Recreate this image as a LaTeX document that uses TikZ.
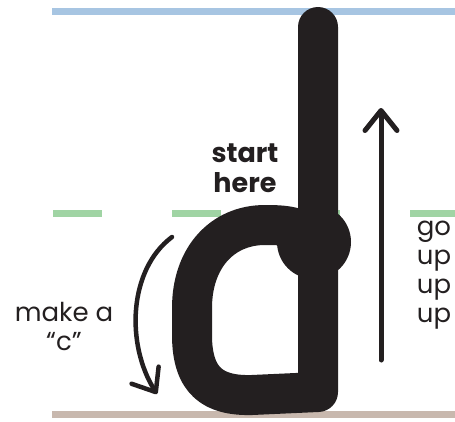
\documentclass[tikz,border=0pt]{standalone}
\usepackage{fontspec}
\setmainfont{Poppins}
\usetikzlibrary{arrows.meta}
\definecolor{inkBlack}{RGB}{35,31,32}
\definecolor{topLine}{RGB}{167,197,226}
\definecolor{midLine}{RGB}{160,212,164}
\definecolor{baseLine}{RGB}{200,184,174}

\begin{document}
\begin{tikzpicture}[x=1pt, y=-1pt,
    guide/.style={line width=7pt},
    letter/.style={inkBlack, line width=40pt, line cap=round, line join=round},
    hint/.style={inkBlack, line width=4.5pt, line cap=round, -{Straight Barb[length=20pt,width=32pt,round]}},
    every node/.style={inkBlack, font=\fontsize{26}{29}\selectfont, align=center, inner sep=0pt}]
  \useasboundingbox (0,0) rectangle (455,421);
  % guide lines
  \draw[guide, topLine] (52,11.5) -- (455,11.5);
  \draw[guide, midLine, dash pattern=on 49pt off 70pt] (53,213) -- (455,213);
  \draw[guide, baseLine] (52,414) -- (455,414);
  % the letter d
  \draw[letter] (316,240) .. controls (300,226) and (285,225) .. (265,225)
    .. controls (222,225) and (192,258) .. (192,308) -- (192,335)
    .. controls (192,382) and (214,396) .. (252,395) -- (318,392) -- (318,27);
  \fill[inkBlack] (314,242) circle[radius=37pt];
  % stroke hints
  \coordinate (cTop) at (172,237);
  \coordinate (cEnd) at (157,394);
  \draw[hint] (cTop) .. controls (128,270) and (126,345) .. (cEnd);
  \coordinate (upFoot) at (381,360);
  \coordinate (upHead) at (381,108);
  \draw[hint, line width=5pt] (upFoot) -- (upHead);
  % labels
  \node[font=\bfseries\fontsize{27}{30}\selectfont] (startHere) at (245,168) {start\\here};
  \node (makeC) at (64,326) {make a\\“c”};
  \node (goUp) at (434,275) {go\\up\\up\\up};
\end{tikzpicture}
\end{document}
